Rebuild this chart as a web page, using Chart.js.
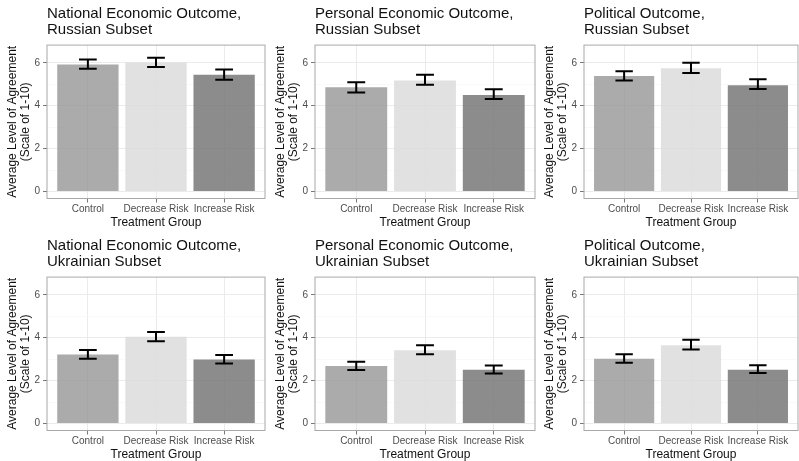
<!DOCTYPE html>
<html lang="en">
<head>
    <meta charset="UTF-8">
    <title>Average Level of Agreement by Treatment Group</title>
    <script src="https://cdn.jsdelivr.net/npm/chart.js"></script>
    <style>
        body {
            margin: 0;
            width: 799px;
            height: 461px;
            overflow: hidden;
            background: #fff;
            position: relative;
        }
        .panel {
            position: absolute;
        }
        .panel canvas {
            display: block;
        }
    </style>
</head>
<body>
    <div class="panel" style="left:0px;top:0px;"><canvas id="p0" width="268" height="231"></canvas></div>
    <div class="panel" style="left:268px;top:0px;"><canvas id="p1" width="270" height="231"></canvas></div>
    <div class="panel" style="left:537px;top:0px;"><canvas id="p2" width="264" height="231"></canvas></div>
    <div class="panel" style="left:0px;top:232px;"><canvas id="p3" width="268" height="231"></canvas></div>
    <div class="panel" style="left:268px;top:232px;"><canvas id="p4" width="270" height="231"></canvas></div>
    <div class="panel" style="left:537px;top:232px;"><canvas id="p5" width="264" height="231"></canvas></div>

    <script>
        // categories on the x axis
        const categories = ['Control', 'Decrease Risk', 'Increase Risk'];
        // slightly see-through fills, like the ggplot bars
        const barColors = ['rgba(150,150,150,0.8)', 'rgba(220,220,220,0.85)', 'rgba(120,120,120,0.85)'];

        // panel titles
        const titles = [
            ['National Economic Outcome,', 'Russian Subset'],
            ['Personal Economic Outcome,', 'Russian Subset'],
            ['Political Outcome,', 'Russian Subset'],
            ['National Economic Outcome,', 'Ukrainian Subset'],
            ['Personal Economic Outcome,', 'Ukrainian Subset'],
            ['Political Outcome,', 'Ukrainian Subset']
        ];

        // means and error bar limits
        const natRusMean = [5.92, 6.01, 5.44];
        const natRusLow  = [5.72, 5.80, 5.21];
        const natRusHigh = [6.15, 6.23, 5.69];

        const perRusMean = [4.86, 5.17, 4.50];
        const perRusLow  = [4.62, 4.98, 4.31];
        const perRusHigh = [5.09, 5.44, 4.77];

        const polRusMean = [5.38, 5.75, 4.95];
        const polRusLow  = [5.17, 5.52, 4.78];
        const polRusHigh = [5.61, 6.00, 5.23];

        const natUkrMean = [3.22, 4.05, 2.98];
        const natUkrLow  = [3.02, 3.83, 2.80];
        const natUkrHigh = [3.43, 4.27, 3.19];

        const perUkrMean = [2.68, 3.42, 2.51];
        const perUkrLow  = [2.49, 3.23, 2.33];
        const perUkrHigh = [2.88, 3.65, 2.71];

        const polUkrMean = [3.02, 3.65, 2.51];
        const polUkrLow  = [2.83, 3.45, 2.35];
        const polUkrHigh = [3.23, 3.90, 2.72];

        // y ticks (major even, minor odd)
        const yTicks = [0, 1, 2, 3, 4, 5, 6];

        const series = [
            [natRusMean, natRusLow, natRusHigh],
            [perRusMean, perRusLow, perRusHigh],
            [polRusMean, polRusLow, polRusHigh],
            [natUkrMean, natUkrLow, natUkrHigh],
            [perUkrMean, perUkrLow, perUkrHigh],
            [polUkrMean, polUkrLow, polUkrHigh]
        ];

        Chart.defaults.font.family = "'Liberation Sans', Arial, Helvetica, sans-serif";

        // error bars + panel border drawn on top of the bars
        function makeOverlay(low, high) {
            return {
                id: 'overlay',
                afterDatasetsDraw(chart) {
                    const {ctx, chartArea, scales: {x, y}} = chart;
                    ctx.save();
                    // panel border
                    ctx.strokeStyle = '#a8a8a8';
                    ctx.lineWidth = 1;
                    ctx.strokeRect(chartArea.left, chartArea.top, chartArea.right - chartArea.left, chartArea.bottom - chartArea.top);
                    // error bars
                    ctx.strokeStyle = '#000';
                    ctx.lineWidth = 2;
                    low.forEach((lo, i) => {
                        const xc = x.getPixelForValue(i + 1);
                        const half = x.getPixelForValue(i + 1 + 0.13) - xc;
                        const yl = y.getPixelForValue(lo);
                        const yh = y.getPixelForValue(high[i]);
                        ctx.beginPath();
                        ctx.moveTo(xc, yl); ctx.lineTo(xc, yh);
                        ctx.moveTo(xc - half, yl); ctx.lineTo(xc + half, yl);
                        ctx.moveTo(xc - half, yh); ctx.lineTo(xc + half, yh);
                        ctx.stroke();
                    });
                    ctx.restore();
                }
            };
        }

        series.forEach(([mean, low, high], p) => {
            const ctx = document.getElementById('p' + p).getContext('2d');
            new Chart(ctx, {
                type: 'bar',
                data: {
                    datasets: [{
                        data: categories.map((c, i) => ({x: i + 1, y: mean[i]})),
                        backgroundColor: barColors,
                        borderWidth: 0,
                        barPercentage: 0.9,
                        categoryPercentage: 1.0
                    }]
                },
                options: {
                    responsive: false,
                    animation: false,
                    layout: {padding: {left: 6, right: 3, top: 0, bottom: 0}},
                    plugins: {
                        legend: {display: false},
                        tooltip: {enabled: false},
                        title: {
                            display: true,
                            text: titles[p],
                            align: 'start',
                            fullSize: false,
                            color: '#111',
                            font: {size: 15, weight: 'normal', lineHeight: 1.07},
                            padding: {top: 5.8, bottom: 7.2}
                        }
                    },
                    scales: {
                        x: {
                            type: 'linear',
                            offset: false,
                            min: 0.4,
                            max: 3.6,
                            afterBuildTicks: s => { s.ticks = categories.map((c, i) => ({value: i + 1})); },
                            afterFit: s => { s.height = 32.5; },
                            border: {display: false},
                            grid: {offset: false, color: '#ebebeb', lineWidth: 1, tickLength: 4, tickColor: '#777', tickWidth: 1},
                            ticks: {
                                autoSkip: false,
                                maxRotation: 0,
                                padding: 1,
                                color: '#4d4d4d',
                                font: {size: 10},
                                callback: v => categories[v - 1]
                            },
                            title: {
                                display: true,
                                text: 'Treatment Group',
                                color: '#111',
                                font: {size: 12},
                                padding: {top: 0, bottom: 1}
                            }
                        },
                        y: {
                            min: -0.325,
                            max: 6.825,
                            afterBuildTicks: s => { s.ticks = yTicks.map(v => ({value: v})); },
                            afterFit: s => { s.width = 41; },
                            border: {display: false},
                            grid: {
                                color: c => c.tick.value % 2 === 0 ? '#ebebeb' : '#f5f5f5',
                                lineWidth: c => c.tick.value % 2 === 0 ? 1 : 0.6,
                                tickLength: 4,
                                tickColor: c => c.tick.value % 2 === 0 ? '#777' : 'rgba(0,0,0,0)',
                                tickWidth: 1
                            },
                            ticks: {
                                padding: 3,
                                color: '#4d4d4d',
                                font: {size: 10},
                                callback: v => v % 2 === 0 ? v : ''
                            },
                            title: {
                                display: true,
                                text: ['Average Level of Agreement', '(Scale of 1-10)'],
                                color: '#111',
                                font: {size: 12, lineHeight: 1.1},
                                padding: {top: 0, bottom: 0}
                            }
                        }
                    }
                },
                plugins: [makeOverlay(low, high)]
            });
        });
    </script>
</body>
</html>
